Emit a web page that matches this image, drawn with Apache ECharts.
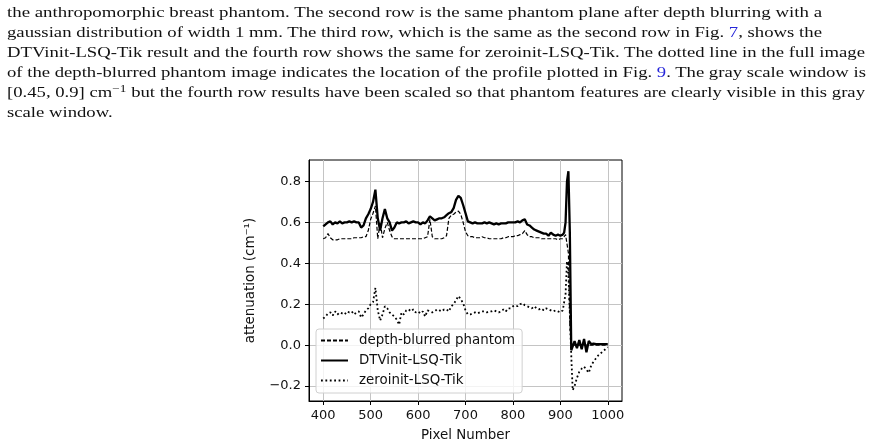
<!DOCTYPE html>
<html>
<head>
<meta charset="utf-8">
<script src="https://cdn.jsdelivr.net/npm/echarts@6/dist/echarts.min.js"></script>
<style>
  html, body { margin: 0; padding: 0; background: #fff; }
  #chart { position: absolute; left: 0; top: 0; width: 873px; height: 447px; }
  .para { position: absolute; left: 7px; font-family: 'Liberation Serif', serif; font-size: 14px;
          line-height: 20px; color: #111; white-space: nowrap; transform-origin: 0 0; }
  .para .ref { color: #2626d9; }
  .para sup { font-size: 10px; vertical-align: 5px; line-height: 0; }
</style>
</head>
<body>
<div id="chart"></div>
<div id="text"></div>
<script>
// paragraph above the figure (one entry per printed line)
var textLines = [
  'the anthropomorphic breast phantom. The second row is the same phantom plane after depth blurring with a',
  'gaussian distribution of width 1 mm. The third row, which is the same as the second row in Fig. <span class="ref">7</span>, shows the',
  'DTVinit-LSQ-Tik result and the fourth row shows the same for zeroinit-LSQ-Tik. The dotted line in the full image',
  'of the depth-blurred phantom image indicates the location of the profile plotted in Fig. <span class="ref">9</span>. The gray scale window is',
  '[0.45, 0.9] cm<sup>\u22121</sup> but the fourth row results have been scaled so that phantom features are clearly visible in this gray',
  'scale window.'
];
var lineRight = [822, 822, 865, 866, 865, null];

// profile data
var pixels = [400, 405, 410, 415, 420, 425, 430, 435, 440, 445,
  450, 455, 460, 465, 470, 475, 480, 485, 490, 495,
  500, 505, 510, 515, 520, 525, 530, 535, 540, 545,
  550, 555, 560, 565, 570, 575, 580, 585, 590, 595,
  600, 605, 610, 615, 620, 625, 630, 635, 640, 645,
  650, 655, 660, 665, 670, 675, 680, 685, 690, 695,
  700, 705, 710, 715, 720, 725, 730, 735, 740, 745,
  750, 755, 760, 765, 770, 775, 780, 785, 790, 795,
  800, 805, 810, 815, 820, 825, 830, 835, 840, 845,
  850, 855, 860, 865, 870, 875, 880, 885, 890, 895,
  900, 905, 908, 911, 914, 917, 920, 923, 926,
  930, 935, 940, 945, 950, 955, 960, 965, 970, 975, 980, 985, 990, 995, 1000];

var blurred = [.52, .525, .545, .525, .515, .515, .515, .52, .52, .52,
  .52, .52, .52, .525, .525, .525, .525, .53, .53, .56,
  .615, .645, .68, .52, .60, .525, .57, .60, .56, .53,
  .52, .52, .52, .52, .52, .52, .52, .52, .52, .52,
  .52, .52, .52, .525, .53, .615, .53, .52, .52, .52,
  .52, .525, .535, .62, .635, .64, .65, .655, .64, .60,
  .555, .535, .53, .53, .525, .525, .525, .53, .525, .525,
  .52, .52, .52, .52, .52, .52, .525, .525, .53, .53,
  .53, .535, .535, .54, .545, .56, .54, .53, .53, .525,
  .525, .525, .52, .52, .52, .52, .52, .52, .52, .515,
  .52, .52, .525, .54, .54, .45, .10, 0, 0,
  0, 0, 0, 0, 0, 0, 0, 0, 0, 0, 0, 0, 0, 0, 0];

var dtvinit = [.58, .59, .60, .605, .59, .60, .595, .605, .595, .60,
  .60, .605, .60, .605, .60, .60, .575, .585, .62, .64,
  .665, .70, .76, .62, .56, .62, .665, .62, .60, .56,
  .575, .60, .595, .60, .60, .605, .595, .60, .605, .60,
  .60, .59, .60, .595, .61, .63, .62, .61, .615, .62,
  .62, .625, .635, .645, .65, .67, .71, .73, .72, .685,
  .645, .605, .60, .595, .60, .595, .595, .595, .60, .595,
  .60, .595, .59, .595, .59, .595, .595, .595, .60, .60,
  .60, .60, .605, .60, .61, .615, .59, .585, .575, .565,
  .56, .555, .55, .545, .545, .535, .55, .54, .535, .54,
  .535, .54, .55, .60, .80, .85, .55, -.025, -.03,
  .02, -.015, .025, -.02, .03, -.035, .02, .005, .008, .005, .005, .005, .005, .005, .005];

var zeroinit = [.13, .14, .155, .16, .145, .165, .15, .16, .155, .15,
  .165, .16, .165, .15, .16, .165, .135, .15, .17, .18,
  .20, .21, .28, .17, .12, .15, .19, .18, .16, .15,
  .14, .125, .10, .16, .15, .17, .175, .165, .175, .16,
  .165, .155, .165, .14, .17, .165, .16, .165, .175, .17,
  .165, .175, .175, .165, .19, .20, .22, .24, .225, .205,
  .17, .15, .15, .155, .16, .155, .16, .165, .165, .16,
  .165, .165, .17, .165, .16, .165, .175, .165, .18, .18,
  .19, .195, .19, .20, .205, .195, .19, .185, .18, .19,
  .18, .175, .18, .17, .18, .175, .17, .165, .17, .165,
  .16, .17, .17, .25, .41, .35, .15, -.05, -.22,
  -.20, -.16, -.13, -.115, -.105, -.12, -.135, -.10, -.08, -.065, -.05, -.04, -.03, -.02, -.01];

var seriesNames = ['depth-blurred phantom', 'DTVinit-LSQ-Tik', 'zeroinit-LSQ-Tik'];
var xTicks = [400, 500, 600, 700, 800, 900, 1000];
var yTicks = [-0.2, 0, 0.2, 0.4, 0.6, 0.8];

// text lines, stretched to the printed line width
var textBox = document.getElementById('text');
textLines.forEach(function (html, i) {
  var div = document.createElement('div');
  div.className = 'para';
  div.style.top = (2.6 + i * 20) + 'px';
  div.innerHTML = html;
  textBox.appendChild(div);
});
var lineDivs = textBox.querySelectorAll('.para');
var refScale = 1;
lineDivs.forEach(function (div, i) {
  if (lineRight[i]) {
    var w = div.getBoundingClientRect().width;
    var s = (lineRight[i] - 7) / w;
    if (i === 3) refScale = s;
    div.style.transform = 'scaleX(' + s + ')';
  }
});
lineDivs[5].style.transform = 'scaleX(' + refScale + ')';

function pairs(ys) {
  return pixels.map(function (p, i) { return [p, ys[i]]; });
}
function fmtY(v) {
  return v.toFixed(1).replace('-', '\u2212');
}

var axisFont = 'DejaVu Sans';
var chart = echarts.init(document.getElementById('chart'));
var option = {
  animation: false,
  backgroundColor: '#fff',
  grid: { left: 309, right: 251, top: 160, bottom: 46, show: true, borderColor: '#000', borderWidth: 1 },
  legend: {
    orient: 'vertical', left: 316, top: 329,
    data: seriesNames,
    itemWidth: 27, itemHeight: 14, itemGap: 7,
    padding: [5, 7, 6, 4],
    backgroundColor: 'rgba(255,255,255,0.8)',
    borderColor: '#d0d0d0', borderWidth: 1, borderRadius: 3,
    itemStyle: { opacity: 0 },
    textStyle: { fontFamily: axisFont, fontSize: 13.4, color: '#111', padding: [0, 0, 0, 6] }
  },
  xAxis: {
    type: 'value', min: 370, max: 1030,
    name: 'Pixel Number', nameLocation: 'middle', nameGap: 28,
    nameTextStyle: { fontFamily: axisFont, fontSize: 13.4, color: '#111' },
    axisLine: { show: true, onZero: false, lineStyle: { color: '#000', width: 1 } },
    axisTick: { show: true, inside: false, length: 4, customValues: xTicks, lineStyle: { color: '#000' } },
    axisLabel: { customValues: xTicks, margin: 8, fontFamily: axisFont, fontSize: 13, color: '#111',
      formatter: function (v) { return String(v); } },
    splitLine: { show: true, customValues: xTicks, lineStyle: { color: '#c4c4c4', width: 1 } }
  },
  yAxis: {
    type: 'value', min: -0.273, max: 0.905,
    name: 'attenuation (cm\u207B\u00B9)', nameLocation: 'middle', nameGap: 52, nameRotate: 90,
    nameTextStyle: { fontFamily: axisFont, fontSize: 13.4, color: '#111' },
    axisLine: { show: true, onZero: false, lineStyle: { color: '#000', width: 1 } },
    axisTick: { show: true, inside: false, length: 4, customValues: yTicks, lineStyle: { color: '#000' } },
    axisLabel: { customValues: yTicks, margin: 8, fontFamily: axisFont, fontSize: 13, color: '#111', formatter: fmtY },
    splitLine: { show: true, customValues: yTicks, lineStyle: { color: '#c4c4c4', width: 1 } }
  },
  series: [
    {
      name: seriesNames[0], type: 'line', data: pairs(blurred), symbol: 'none',
      lineStyle: { color: '#000', width: 1.2, type: [4, 2] }, itemStyle: { color: '#000' }, z: 3
    },
    {
      name: seriesNames[1], type: 'line', data: pairs(dtvinit), symbol: 'none',
      lineStyle: { color: '#000', width: 2.3 }, itemStyle: { color: '#000' }, z: 4
    },
    {
      name: seriesNames[2], type: 'line', data: pairs(zeroinit), symbol: 'none',
      lineStyle: { color: '#000', width: 1.8, type: [1.8, 2.6] }, itemStyle: { color: '#000' }, z: 5
    }
  ]
};
chart.setOption(option);
</script>
</body>
</html>
